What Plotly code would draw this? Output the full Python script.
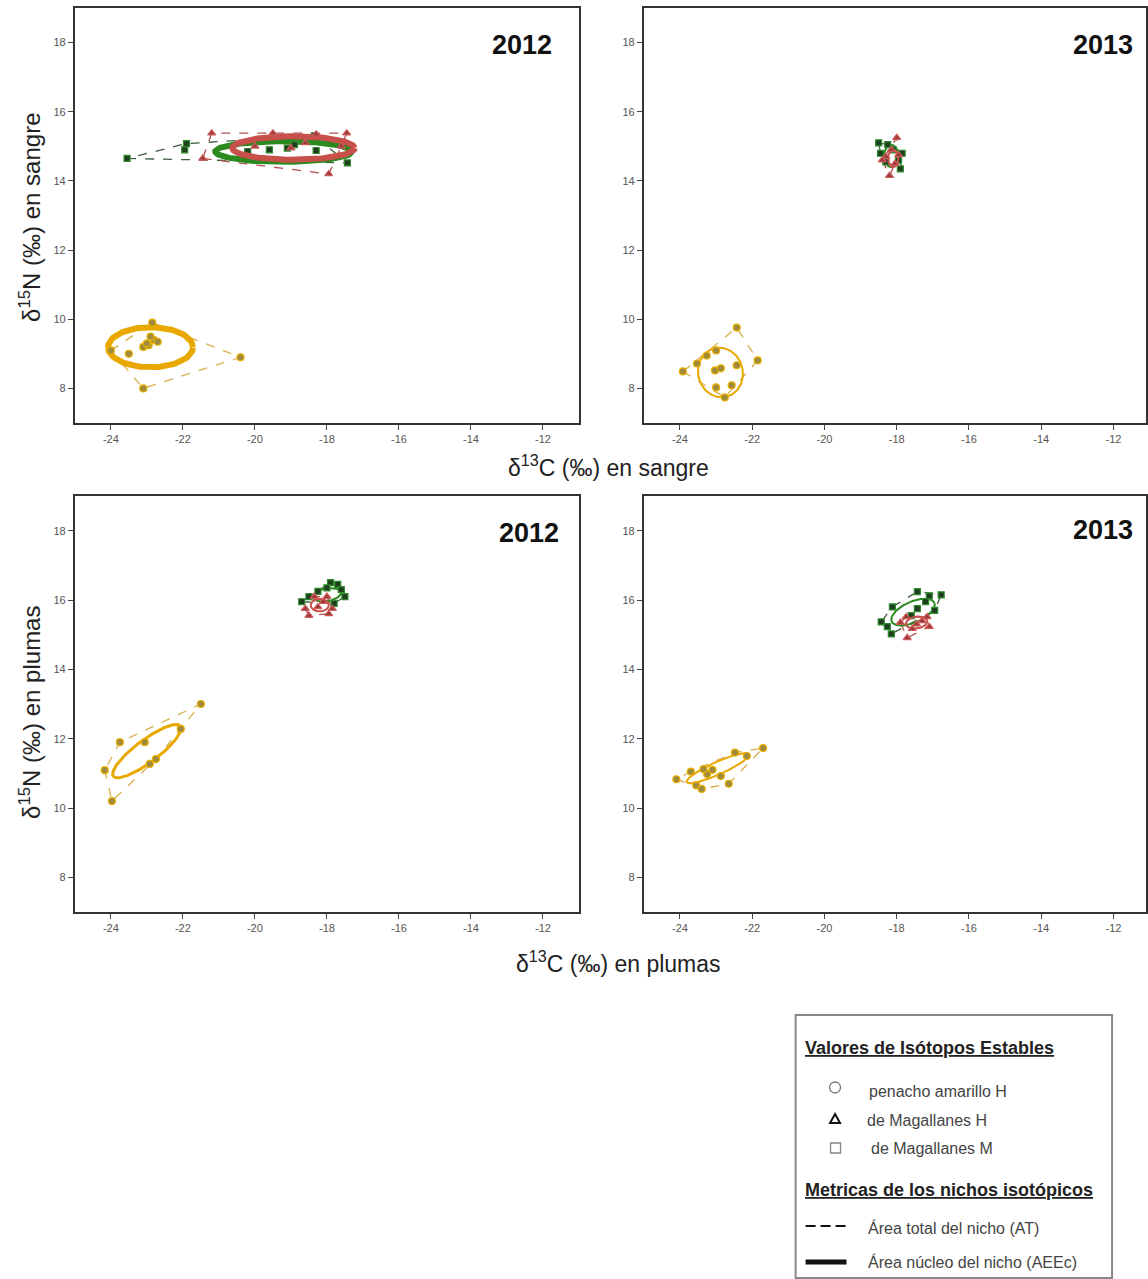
import numpy as np
import plotly.graph_objects as go

W, H = 1148, 1279

# ---------------------------------------------------------------
# Stable isotope values: d13C (x) and d15N (y)
# pa = pingüino de penacho amarillo H, mh = de Magallanes H, mm = de Magallanes M
# ---------------------------------------------------------------
# Sangre 2012
pa_sangre12_c = [-24.0, -23.5, -22.85, -23.1, -22.95, -22.8, -22.7, -22.9, -23.0, -20.4, -23.1]
pa_sangre12_n = [9.1, 9.0, 9.9, 9.2, 9.25, 9.4, 9.35, 9.5, 9.3, 8.9, 8.0]
mm_sangre12_c = [-23.55, -21.9, -21.95, -19.6, -19.1, -18.3, -17.43, -18.9, -20.2, -18.35]
mm_sangre12_n = [14.65, 15.08, 14.9, 14.9, 14.95, 14.88, 14.52, 15.05, 14.85, 15.3]
mh_sangre12_c = [-21.2, -21.45, -19.5, -18.3, -17.45, -17.95, -19.0, -18.6, -20.0, -17.6]
mh_sangre12_n = [15.38, 14.65, 15.38, 15.35, 15.38, 14.2, 14.95, 15.1, 15.0, 15.0]

# Sangre 2013
pa_sangre13_c = [-23.92, -23.53, -23.26, -23.0, -22.43, -21.85, -22.43, -22.57, -22.76, -23.0, -23.03, -22.87]
pa_sangre13_n = [8.49, 8.72, 8.95, 9.1, 9.76, 8.81, 8.67, 8.09, 7.74, 8.03, 8.52, 8.58]
mm_sangre13_c = [-18.5, -18.25, -18.45, -18.3, -17.9, -17.95, -18.1, -17.85]
mm_sangre13_n = [15.1, 15.05, 14.8, 14.55, 14.35, 14.6, 14.9, 14.8]
mh_sangre13_c = [-18.0, -18.2, -18.3, -18.05, -17.95, -18.15, -18.4]
mh_sangre13_n = [15.25, 14.15, 14.7, 14.5, 14.75, 14.9, 14.6]

# Plumas 2012
pa_plumas12_c = [-21.5, -23.75, -23.06, -24.17, -23.97, -22.92, -22.75, -22.06]
pa_plumas12_n = [13.0, 11.9, 11.9, 11.09, 10.2, 11.27, 11.41, 12.28]
mm_plumas12_c = [-17.9, -17.7, -18.7, -17.5, -18.25, -18.0, -17.6, -18.5, -17.8]
mm_plumas12_n = [16.5, 16.45, 15.95, 16.1, 16.25, 16.35, 16.3, 16.1, 15.9]
mh_plumas12_c = [-18.25, -18.5, -17.95, -18.35, -18.1, -17.85, -18.6, -18.0]
mh_plumas12_n = [15.8, 15.55, 15.6, 16.1, 15.95, 15.75, 15.75, 16.1]

# Plumas 2013
pa_plumas13_c = [-24.1, -23.7, -23.55, -23.4, -23.25, -23.1, -22.87, -22.65, -22.48, -22.15, -21.7, -23.35]
pa_plumas13_n = [10.83, 11.05, 10.65, 10.55, 10.98, 11.1, 10.92, 10.7, 11.6, 11.5, 11.73, 11.12]
mm_plumas13_c = [-17.43, -16.77, -17.1, -18.12, -18.43, -18.26, -18.15, -17.43, -17.2, -17.6, -16.95]
mm_plumas13_n = [16.24, 16.15, 16.12, 15.8, 15.37, 15.23, 15.02, 15.75, 15.95, 15.55, 15.7]
mh_plumas13_c = [-17.71, -17.74, -17.16, -17.1, -17.57, -17.3, -17.45, -17.9]
mh_plumas13_n = [14.91, 15.51, 15.51, 15.23, 15.17, 15.4, 15.3, 15.35]

# Standard ellipses (SEAc): centre x, centre y, semi-axis a, semi-axis b, angle (deg)
sea_pa_sangre12 = [-22.9, 9.19, 1.18, 0.58, 0.0]
sea_mm_sangre12 = [-19.2, 14.85, 1.9, 0.3, 0.0]
sea_mh_sangre12 = [-18.93, 14.95, 1.7, 0.34, 0.0]
sea_pa_sangre13 = [-22.88, 8.46, 0.62, 0.72, 10.0]
sea_mm_sangre13 = [-18.15, 14.72, 0.2, 0.32, 0.0]
sea_mh_sangre13 = [-18.1, 14.65, 0.14, 0.25, 0.0]
sea_pa_plumas12 = [-23.0, 11.64, 1.18, 0.32, 38.0]
sea_mm_plumas12 = [-18.0, 16.15, 0.4, 0.18, 10.0]
sea_mh_plumas12 = [-18.2, 15.85, 0.25, 0.18, 0.0]
sea_pa_plumas13 = [-22.95, 11.15, 0.95, 0.18, 25.0]
sea_mm_plumas13 = [-17.55, 15.65, 0.65, 0.3, 25.0]
sea_mh_plumas13 = [-17.45, 15.35, 0.3, 0.17, 10.0]

x_ticks = [-24, -22, -20, -18, -16, -14, -12]
y_ticks = [8, 10, 12, 14, 16, 18]
panel_years = ["2012", "2013", "2012", "2013"]

legend_species = ["penacho amarillo H", "de Magallanes H", "de Magallanes M"]
legend_metrics = ["Área total del nicho (AT)", "Área núcleo del nicho (AEEc)"]

# ---------------------------------------------------------------
# Styling
# ---------------------------------------------------------------
GROUP_STYLE = {
    "pa": dict(fill="#a08a3c", edge="#e8b000", hull="#d8b050", sea="#e8a800", symbol="circle", size=7),
    "mm": dict(fill="#1f3d1f", edge="#2e8b2e", hull="#3d5d3d", sea="#2a8a1e", symbol="square", size=6),
    "mh": dict(fill="#9a3a3a", edge="#d05a5a", hull="#b05050", sea="#c8504a", symbol="triangle-up", size=7),
}


def px_x(p):
    return p / W


def px_y(p):
    return 1 - p / H


# panel domains (paper)
DOMAINS = [
    ([px_x(75), px_x(580)], [px_y(423), px_y(8)]),
    ([px_x(645), 1.0], [px_y(423), px_y(8)]),
    ([px_x(75), px_x(580)], [px_y(912), px_y(496)]),
    ([px_x(645), 1.0], [px_y(912), px_y(496)]),
]
X_RANGES = [[-25, -11], [-25, -11.1], [-25, -11], [-25, -11.1]]

panels = [
    dict(pa=(pa_sangre12_c, pa_sangre12_n, sea_pa_sangre12),
         mm=(mm_sangre12_c, mm_sangre12_n, sea_mm_sangre12),
         mh=(mh_sangre12_c, mh_sangre12_n, sea_mh_sangre12),
         width=dict(pa=6, mm=6, mh=6)),
    dict(pa=(pa_sangre13_c, pa_sangre13_n, sea_pa_sangre13),
         mm=(mm_sangre13_c, mm_sangre13_n, sea_mm_sangre13),
         mh=(mh_sangre13_c, mh_sangre13_n, sea_mh_sangre13),
         width=dict(pa=2, mm=2, mh=2)),
    dict(pa=(pa_plumas12_c, pa_plumas12_n, sea_pa_plumas12),
         mm=(mm_plumas12_c, mm_plumas12_n, sea_mm_plumas12),
         mh=(mh_plumas12_c, mh_plumas12_n, sea_mh_plumas12),
         width=dict(pa=3, mm=2, mh=2)),
    dict(pa=(pa_plumas13_c, pa_plumas13_n, sea_pa_plumas13),
         mm=(mm_plumas13_c, mm_plumas13_n, sea_mm_plumas13),
         mh=(mh_plumas13_c, mh_plumas13_n, sea_mh_plumas13),
         width=dict(pa=2, mm=2, mh=2)),
]


def convex_hull(xs, ys):
    pts = sorted(set(zip(xs, ys)))
    if len(pts) < 3:
        return pts

    def cross(o, a, b):
        return (a[0] - o[0]) * (b[1] - o[1]) - (a[1] - o[1]) * (b[0] - o[0])

    lower, upper = [], []
    for p in pts:
        while len(lower) >= 2 and cross(lower[-2], lower[-1], p) <= 0:
            lower.pop()
        lower.append(p)
    for p in reversed(pts):
        while len(upper) >= 2 and cross(upper[-2], upper[-1], p) <= 0:
            upper.pop()
        upper.append(p)
    hull = lower[:-1] + upper[:-1]
    return hull + [hull[0]]


def ellipse(params, n=120):
    cx, cy, a, b, ang = params
    t = np.linspace(0, 2 * np.pi, n)
    th = np.deg2rad(ang)
    ex = cx + a * np.cos(t) * np.cos(th) - b * np.sin(t) * np.sin(th)
    ey = cy + a * np.cos(t) * np.sin(th) + b * np.sin(t) * np.cos(th)
    return ex, ey


fig = go.Figure()

for i, panel in enumerate(panels):
    xa = "x" if i == 0 else f"x{i + 1}"
    ya = "y" if i == 0 else f"y{i + 1}"
    for g in ["pa", "mm", "mh"]:
        xs, ys, sea = panel[g]
        st = GROUP_STYLE[g]
        hull = convex_hull(xs, ys)
        fig.add_trace(go.Scatter(
            x=[p[0] for p in hull], y=[p[1] for p in hull], mode="lines",
            line=dict(color=st["hull"], width=1.3, dash="dash"),
            xaxis=xa, yaxis=ya, showlegend=False, hoverinfo="skip"))
    for g in ["pa", "mm", "mh"]:
        xs, ys, sea = panel[g]
        st = GROUP_STYLE[g]
        ex, ey = ellipse(sea)
        fig.add_trace(go.Scatter(
            x=ex, y=ey, mode="lines",
            line=dict(color=st["sea"], width=panel["width"][g]),
            xaxis=xa, yaxis=ya, showlegend=False, hoverinfo="skip"))
        fig.add_trace(go.Scatter(
            x=xs, y=ys, mode="markers",
            marker=dict(symbol=st["symbol"], size=st["size"], color=st["fill"],
                        line=dict(color=st["edge"], width=1.2)),
            xaxis=xa, yaxis=ya, showlegend=False))

axis_common = dict(showline=True, mirror=True, linecolor="#333", linewidth=2,
                   ticks="outside", ticklen=5, tickwidth=1, tickcolor="#444",
                   showgrid=False, zeroline=False,
                   tickfont=dict(family="Arial, Liberation Sans", size=11, color="#555"))

layout_axes = {}
for i, (dx, dy) in enumerate(DOMAINS):
    sx = "" if i == 0 else str(i + 1)
    layout_axes[f"xaxis{sx}"] = dict(
        axis_common, domain=dx, range=X_RANGES[i], anchor=f"y{sx}",
        tickvals=x_ticks, ticktext=[str(v) for v in x_ticks])
    layout_axes[f"yaxis{sx}"] = dict(
        axis_common, domain=dy, range=[7, 19], anchor=f"x{sx}",
        tickvals=y_ticks, ticktext=[str(v) for v in y_ticks])

fig.update_layout(
    width=W, height=H, autosize=False,
    margin=dict(l=0, r=0, t=0, b=0),
    paper_bgcolor="white", plot_bgcolor="white",
    font=dict(family="Arial, Liberation Sans", color="#222"),
    **layout_axes,
)


def note(xp, yp, text, font, xanchor="center", **kw):
    return dict(x=px_x(xp), y=px_y(yp), xref="paper", yref="paper", text=text,
                showarrow=False, font=font, xanchor=xanchor, yanchor="middle", **kw)


ann = []
ytitle_font = dict(family="Arial, Liberation Sans", size=24, color="#222")
xtitle_font = dict(family="Arial, Liberation Sans", size=23, color="#222")
ann.append(note(30, 217, "δ<sup>15</sup>N (‰) en sangre", ytitle_font, textangle=-90))
ann.append(note(30, 712, "δ<sup>15</sup>N (‰) en plumas", ytitle_font, textangle=-90))
ann.append(note(610, 466, "δ<sup>13</sup>C (‰) en sangre", xtitle_font))
ann.append(note(620, 962, "δ<sup>13</sup>C (‰) en plumas", xtitle_font))

year_font = dict(family="Arial, Liberation Sans", size=27, color="#111")
year_pos = [(523, 45), (1105, 45), (530, 533), (1105, 530)]
for (xp, yp), yr in zip(year_pos, panel_years):
    ann.append(note(xp, yp, f"<b>{yr}</b>", year_font))

# legend box contents
head_font = dict(family="Arial, Liberation Sans", size=18, color="#222")
item_font = dict(family="Arial, Liberation Sans", size=16, color="#444")
ann.append(note(804, 1048, "<b><u>Valores de Isótopos Estables</u></b>", head_font, xanchor="left"))
ann.append(note(804, 1190, "<b><u>Metricas de los nichos isotópicos</u></b>", head_font, xanchor="left"))

species_y = [1091, 1120, 1148]
text_x = [869, 867, 871]
for lab, yy, tx in zip(legend_species, species_y, text_x):
    ann.append(note(tx, yy, lab, item_font, xanchor="left"))

metric_y = [1228, 1262]
for lab, yy in zip(legend_metrics, metric_y):
    ann.append(note(868, yy, lab, item_font, xanchor="left"))


def tri_path(cx, cy, r):
    pts = [(cx, cy - r), (cx + r, cy + r * 0.8), (cx - r, cy + r * 0.8)]
    return "M " + " L ".join(f"{px_x(x):.5f},{px_y(y):.5f}" for x, y in pts) + " Z"


shapes = [
    dict(type="rect", xref="paper", yref="paper",
         x0=px_x(797), x1=px_x(1114), y0=px_y(1278), y1=px_y(1015),
         line=dict(color="#888", width=2), fillcolor="rgba(0,0,0,0)"),
    # legend symbols
    dict(type="circle", xref="paper", yref="paper",
         x0=px_x(831), x1=px_x(842), y0=px_y(1093), y1=px_y(1082),
         line=dict(color="#777", width=1.3), fillcolor="white"),
    dict(type="path", xref="paper", yref="paper", path=tri_path(836.5, 1119, 5),
         line=dict(color="#111", width=2), fillcolor="white"),
    dict(type="rect", xref="paper", yref="paper",
         x0=px_x(832), x1=px_x(842), y0=px_y(1153), y1=px_y(1143),
         line=dict(color="#888", width=1.3), fillcolor="white"),
    dict(type="line", xref="paper", yref="paper",
         x0=px_x(807), x1=px_x(848), y0=px_y(metric_y[0] - 2), y1=px_y(metric_y[0] - 2),
         line=dict(color="#111", width=2, dash="10px,5px")),
    dict(type="line", xref="paper", yref="paper",
         x0=px_x(807), x1=px_x(848), y0=px_y(metric_y[1]), y1=px_y(metric_y[1]),
         line=dict(color="#111", width=5)),
]

fig.update_layout(annotations=ann, shapes=shapes)

fig.write_html("out.html")
